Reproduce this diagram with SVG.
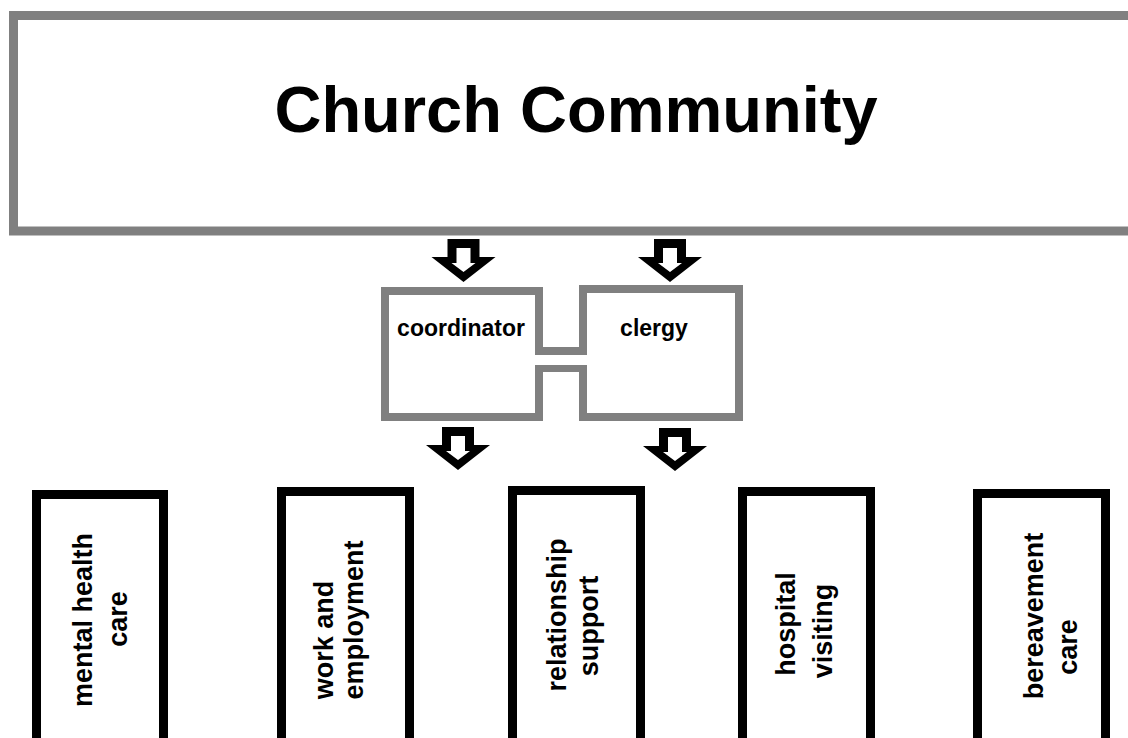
<svg xmlns="http://www.w3.org/2000/svg" width="1128" height="738" viewBox="0 0 1128 738">
<style>
.gray{fill:#ffffff;stroke:#808080;stroke-width:8}
.blk{fill:#ffffff;stroke:#000000;stroke-width:9}
.t{font-family:"Liberation Sans",Arial,sans-serif;font-weight:bold;fill:#000000}
.v{font-size:27px;text-anchor:middle}
</style>
<defs>
<g id="arrow">
<path d="M-16,0 H16 V18 H32 L0,43 L-32,18 H-16 Z" fill="#000000"/>
<path d="M-7,9 H7 V24 H12 L0,33 L-12,24 H-7 Z" fill="#ffffff"/>
</g>
</defs>
<rect width="1128" height="738" fill="#ffffff"/>
<g id="church-community">
<rect x="13.5" y="15.5" width="1130" height="215.5" fill="#ffffff" stroke="#808080" stroke-width="9"/>
<text class="t" x="576" y="132" font-size="65" text-anchor="middle">Church Community</text>
</g>
<g id="coordinator">
<rect class="gray" x="385" y="291" width="154" height="126"/>
<text class="t" x="461" y="336" font-size="23" text-anchor="middle">coordinator</text>
</g>
<g id="clergy">
<rect class="gray" x="583" y="289" width="156" height="128"/>
<text class="t" x="654" y="336" font-size="23" text-anchor="middle">clergy</text>
</g>
<g id="connectors">
<rect x="539" y="347" width="44" height="25" fill="#808080"/>
<rect x="535" y="355" width="52" height="10" fill="#ffffff"/>
<use href="#arrow" transform="translate(463.5,239)"/>
<use href="#arrow" transform="translate(670,239)"/>
<use href="#arrow" transform="translate(458,427)"/>
<use href="#arrow" transform="translate(675,428)"/>
</g>
<g id="mental-health-care">
<rect class="blk" x="36.5" y="494.5" width="127" height="260"/>
<text class="t v" transform="translate(92,620) rotate(-90)">mental health</text>
<text class="t v" transform="translate(127,619) rotate(-90)">care</text>
</g>
<g id="work-and-employment">
<rect class="blk" x="281.5" y="491.5" width="128" height="260"/>
<text class="t v" transform="translate(333,640) rotate(-90)">work and</text>
<text class="t v" transform="translate(363,620) rotate(-90)">employment</text>
</g>
<g id="relationship-support">
<rect class="blk" x="512.5" y="490.5" width="128" height="260"/>
<text class="t v" transform="translate(566,615) rotate(-90)">relationship</text>
<text class="t v" transform="translate(598,626) rotate(-90)">support</text>
</g>
<g id="hospital-visiting">
<rect class="blk" x="742.5" y="491.5" width="128" height="260"/>
<text class="t v" transform="translate(795,624) rotate(-90)">hospital</text>
<text class="t v" transform="translate(832,631) rotate(-90)">visiting</text>
</g>
<g id="bereavement-care">
<rect class="blk" x="977.5" y="493.5" width="128" height="260"/>
<text class="t v" transform="translate(1043,616) rotate(-90)">bereavement</text>
<text class="t v" transform="translate(1077,647) rotate(-90)">care</text>
</g>
</svg>
